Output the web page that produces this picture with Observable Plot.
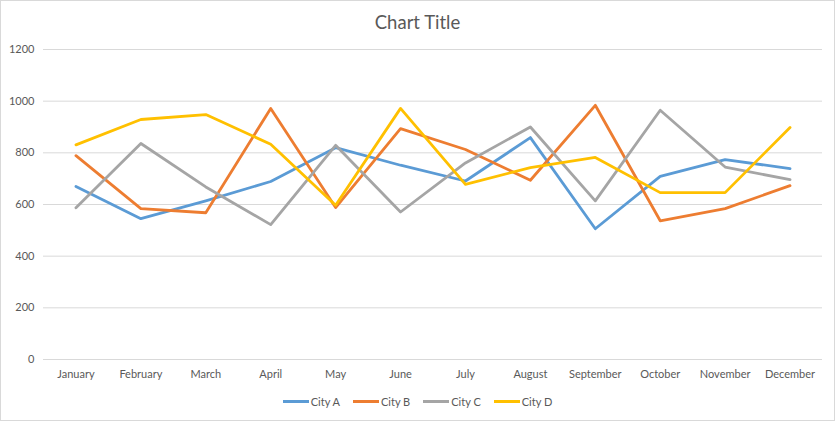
<!DOCTYPE html>
<html><head><meta charset="utf-8">
<script src="https://cdn.jsdelivr.net/npm/d3@7"></script>
<script src="https://cdn.jsdelivr.net/npm/@observablehq/plot@0.6"></script>
<style>
html,body{margin:0;padding:0;background:#fff;}
#chart{position:relative;width:835px;height:421px;box-sizing:border-box;border:1px solid #d9d9d9;font-family:Lato,"Open Sans",sans-serif;overflow:hidden;}
#title{height:39px;line-height:43px;text-align:center;font-size:18.5px;color:#595959;}
#legend{display:flex;justify-content:center;gap:13px;font-size:11px;color:#595959;margin-top:10px;}
.item{display:flex;align-items:center;gap:2px;}
.sw{display:inline-block;width:26px;height:3px;}
</style></head>
<body>
<div id="chart"><div id="title">Chart Title</div><div id="plot"></div><div id="legend"></div></div>
<script>
const months = ["January","February","March","April","May","June","July","August","September","October","November","December"];
const seriesNames = ["City A","City B","City C","City D"];
const colors = ["#5B9BD5","#ED7D31","#A5A5A5","#FFC000"];
const cityA = [670,545,614,689,820,752,691,859,506,709,774,739];
const cityB = [789,584,568,972,588,894,813,694,984,537,584,673];
const cityC = [587,836,668,522,829,571,761,900,614,965,745,696];
const cityD = [831,929,948,833,597,972,678,743,782,646,646,898];
const yTicks = [0,200,400,600,800,1000,1200];

const allSeries = [cityA,cityB,cityC,cityD];
const data = [];
allSeries.forEach((vals,si)=>vals.forEach((v,i)=>data.push({month:months[i],value:v,city:seriesNames[si]})));

const plot = Plot.plot({
  width: 833, height: 345,
  marginLeft: 42, marginRight: 12, marginTop: 9, marginBottom: 26,
  style: {fontFamily: "Lato, 'Open Sans', sans-serif", fontSize: "11px", color: "#595959", background: "#fff"},
  x: {type: "point", domain: months, padding: 0.5, round: false, label: null},
  y: {domain: [0,1200], ticks: yTicks, label: null},
  color: {domain: seriesNames, range: colors},
  marks: [
    Plot.gridY(yTicks, {stroke: "#d9d9d9", strokeOpacity: 1}),
    Plot.axisY(yTicks, {tickSize: 0, tickPadding: 9, label: null, tickFormat: d3.format("d")}),
    Plot.axisX({tickSize: 0, tickPadding: 11, label: null}),
    Plot.line(data, {x: "month", y: "value", z: "city", stroke: "city", strokeWidth: 2.8, strokeLinejoin: "round", strokeLinecap: "round"})
  ]
});
document.getElementById("plot").appendChild(plot);

const legend = document.getElementById("legend");
seriesNames.forEach((n,i)=>{
  const it = document.createElement("span"); it.className="item";
  const sw = document.createElement("span"); sw.className="sw"; sw.style.background=colors[i];
  const t = document.createElement("span"); t.textContent=n;
  it.appendChild(sw); it.appendChild(t); legend.appendChild(it);
});
</script>
</body></html>
